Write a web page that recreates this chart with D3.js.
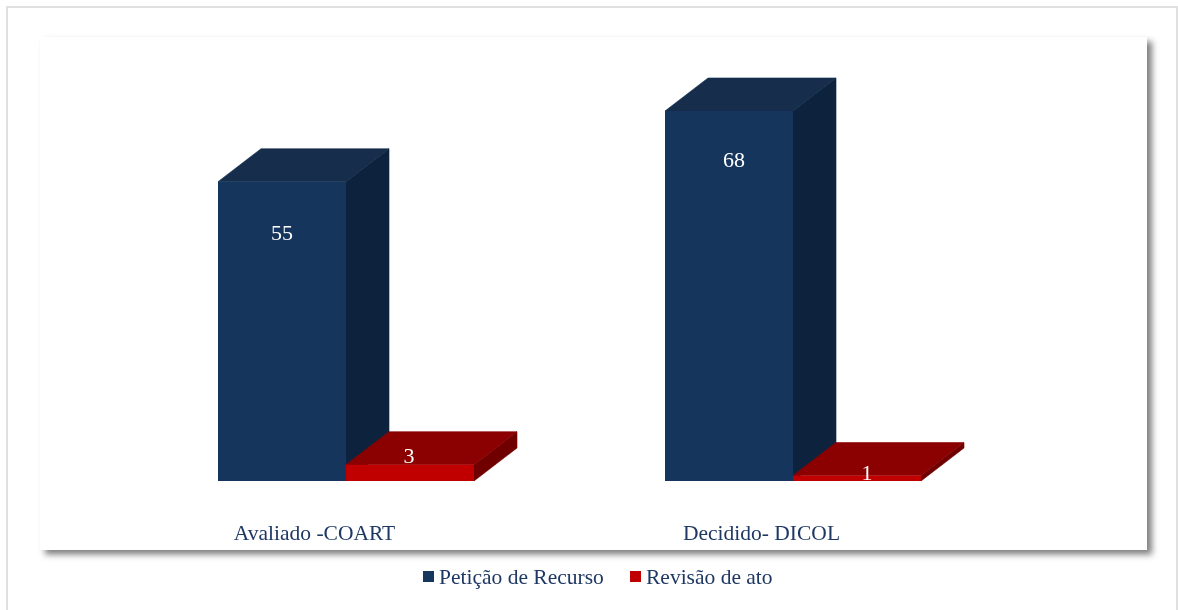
<!DOCTYPE html>
<html><head><meta charset="utf-8">
<script src="https://cdn.jsdelivr.net/npm/d3@7"></script>
<style>html,body{margin:0;padding:0;background:#fff;overflow:hidden}svg{display:block}text{font-family:"Liberation Serif",serif}</style>
</head><body><svg id="c" width="1178" height="610"></svg>
<script>
const categories = ["Avaliado -COART", "Decidido- DICOL"];
const seriesNames = ["Petição de Recurso", "Revisão de ato"];
const peticao = [55, 68];
const revisao = [3, 1];
const colors = {
  "Petição de Recurso": {front:"#17365d", top:"#132d4c", side:"#10243c"},
  "Revisão de ato": {front:"#c00000", top:"#8b0000", side:"#700000"}
};
const textColor = "#1f3864";
const W=1178,H=610, depthX=43, depthY=33, baseY=481;
const svg=d3.select("#c");
const defs=svg.append("defs");
const f=defs.append("filter").attr("id","sh").attr("x","-5%").attr("y","-5%").attr("width","110%").attr("height","110%");
f.append("feDropShadow").attr("dx",5).attr("dy",4.5).attr("stdDeviation",3.4).attr("flood-color","#000").attr("flood-opacity",0.5);
const soft=defs.append("filter").attr("id","soft");
soft.append("feGaussianBlur").attr("stdDeviation",0.45);
const softText=defs.append("filter").attr("id","softText").attr("x","-5%").attr("y","-10%").attr("width","110%").attr("height","120%");
softText.append("feGaussianBlur").attr("stdDeviation",0.3);

svg.append("rect").attr("x",7).attr("y",7).attr("width",1170).attr("height",610).attr("fill","#fff").attr("stroke","#e0e0e0").attr("stroke-width",2);
svg.append("rect").attr("x",40).attr("y",37).attr("width",1107).attr("height",513).attr("fill","#fff").attr("filter","url(#sh)");

const x=d3.scaleBand().domain(categories).range([122.5,1016.5]);
const y=d3.scaleLinear().domain([0,68]).range([baseY,111]);
const inner=d3.scaleBand().domain(seriesNames).range([-128,128]);
const rows=categories.flatMap((c,i)=>[
  {c,s:seriesNames[0],v:peticao[i],nx:[0,5][i],ny:[58,56][i]},
  {c,s:seriesNames[1],v:revisao[i],nx:[-1,10][i],ny:[-2,4.5][i]}
]);
const marks=svg.append("g").attr("filter","url(#soft)");
rows.forEach(d=>{
  const cx=x(d.c)+x.bandwidth()/2, x0=cx+inner(d.s), x1=x0+inner.bandwidth(), t=y(d.v), col=colors[d.s], g=marks.append("g");
  g.append("path").attr("fill",col.side).attr("stroke",col.side).attr("stroke-width",0.6).attr("d",d3.line()([[x1,t],[x1+depthX,t-depthY],[x1+depthX,baseY-depthY],[x1,baseY]])+"Z");
  g.append("path").attr("fill",col.top).attr("stroke",col.top).attr("stroke-width",0.6).attr("d",d3.line()([[x0,t],[x0+depthX,t-depthY],[x1+depthX,t-depthY],[x1,t]])+"Z");
  g.append("rect").attr("x",x0).attr("y",t).attr("width",x1-x0).attr("height",baseY-t).attr("fill",col.front);
});
const texts=svg.append("g").attr("filter","url(#softText)");
rows.forEach(d=>{
  const cx=x(d.c)+x.bandwidth()/2, x0=cx+inner(d.s), t=y(d.v);
  texts.append("text").attr("x",x0+inner.bandwidth()/2+d.nx).attr("y",t+d.ny)
    .attr("text-anchor","middle").attr("font-size",22).attr("fill","#fff").text(d.v);
});
categories.forEach(c=>{
  texts.append("text").attr("x",x(c)+x.bandwidth()/2-31.5).attr("y",540).attr("text-anchor","middle")
    .attr("font-size",21.5).attr("fill",textColor).text(c);
});
const lx=[423,630];
seriesNames.forEach((s,i)=>{
  svg.append("rect").attr("x",lx[i]).attr("y",571).attr("width",11).attr("height",11).attr("fill",colors[s].front);
  texts.append("text").attr("x",lx[i]+16).attr("y",584).attr("font-size",21.5).attr("fill",textColor).text(s);
});
</script></body></html>
